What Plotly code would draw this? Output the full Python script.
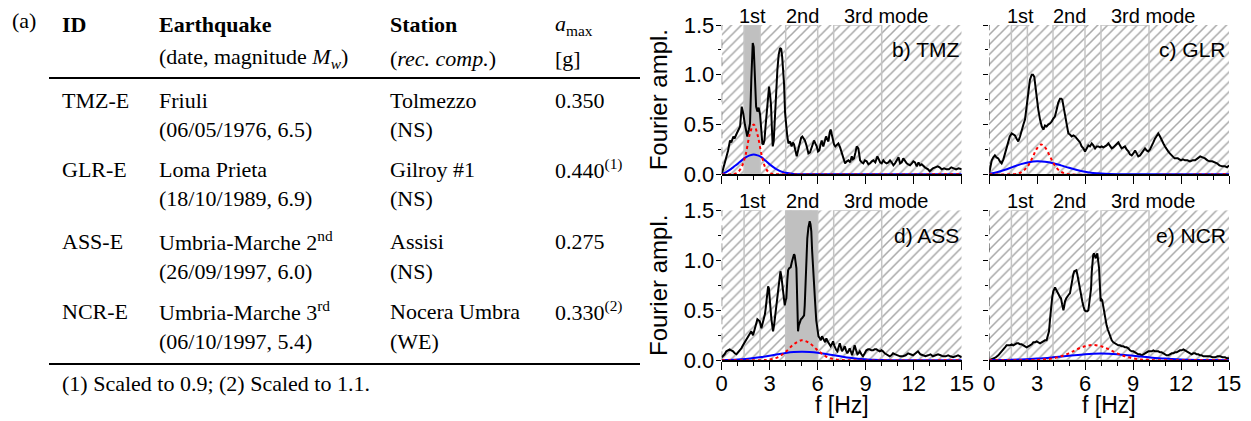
import plotly.graph_objects as go

# ---------------- data ----------------
freq_range = [0, 15]
amp_range = [0, 1.5]

mode_band_lo = [1.4, 4.0, 7.0]
mode_band_hi = [2.4, 6.0, 10.0]
mode_labels = ["1st", "2nd", "3rd mode"]
mode_label_x = [1.95, 5.05, 10.3]

panel_names = ["b) TMZ", "c) GLR", "d) ASS", "e) NCR"]
panel_shaded_band = [0, None, 1, None]

# TMZ
tmz_f = [0.00,0.10,0.21,0.30,0.40,0.52,0.60,0.73,0.80,0.94,1.05,1.15,1.25,1.35,1.45,1.52,1.60,1.70,1.77,1.85,1.94,2.00,2.05,2.10,2.15,2.23,2.31,2.40,2.47,2.54,2.60,2.67,2.75,2.81,2.90,2.96,3.02,3.08,3.14,3.19,3.25,3.32,3.40,3.48,3.56,3.65,3.72,3.78,3.84,3.90,3.96,4.02,4.10,4.17,4.27,4.37,4.45,4.52,4.60,4.69,4.80,4.90,4.97,5.04,5.12,5.20,5.30,5.42,5.52,5.62,5.70,5.77,5.85,5.94,6.02,6.10,6.18,6.25,6.35,6.45,6.52,6.60,6.67,6.75,6.81,6.88,6.94,7.02,7.10,7.20,7.29,7.40,7.50,7.60,7.71,7.82,7.92,8.03,8.13,8.20,8.27,8.36,8.44,8.54,8.65,8.75,8.85,8.95,9.06,9.17,9.27,9.38,9.48,9.60,9.73,9.82,9.90,10.00,10.10,10.20,10.30,10.42,10.52,10.62,10.73,10.83,10.94,11.05,11.15,11.25,11.35,11.45,11.56,11.66,11.77,11.88,11.98,12.08,12.19,12.30,12.40,12.50,12.60,12.70,12.80,12.90,13.00,13.10,13.20,13.35,13.50,13.62,13.75,13.90,14.05,14.20,14.35,14.50,14.65,14.80,15.00]
tmz_amp = [0.00,0.06,0.11,0.19,0.24,0.34,0.32,0.38,0.36,0.41,0.44,0.48,0.68,0.61,0.50,0.43,0.38,0.45,0.51,0.95,1.32,1.28,1.10,0.85,0.68,0.63,0.67,0.60,0.40,0.31,0.30,0.34,0.50,0.63,0.82,0.88,0.80,0.70,0.45,0.28,0.33,0.50,0.80,1.05,1.20,1.27,1.26,1.18,1.05,0.90,0.62,0.48,0.38,0.31,0.33,0.28,0.32,0.30,0.24,0.18,0.26,0.34,0.37,0.38,0.36,0.34,0.29,0.21,0.22,0.26,0.30,0.34,0.31,0.28,0.23,0.24,0.30,0.34,0.28,0.33,0.38,0.35,0.33,0.42,0.45,0.40,0.34,0.30,0.28,0.30,0.31,0.27,0.21,0.16,0.11,0.13,0.14,0.12,0.18,0.15,0.16,0.22,0.28,0.26,0.14,0.12,0.11,0.14,0.13,0.10,0.11,0.13,0.14,0.12,0.18,0.15,0.12,0.11,0.14,0.12,0.11,0.12,0.14,0.12,0.09,0.11,0.14,0.17,0.11,0.12,0.16,0.13,0.11,0.10,0.09,0.11,0.13,0.12,0.08,0.12,0.09,0.10,0.08,0.07,0.06,0.05,0.03,0.05,0.06,0.07,0.08,0.07,0.05,0.06,0.05,0.05,0.07,0.06,0.05,0.06,0.05]
tmz_blue_f = [0,0.25,0.5,0.75,1,1.25,1.5,1.75,2,2.25,2.5,2.75,3,3.25,3.5,3.75,4,4.5,5,6,15]
tmz_blue = [0.0,0.02,0.045,0.075,0.105,0.14,0.17,0.19,0.2,0.19,0.17,0.135,0.1,0.07,0.045,0.027,0.015,0.004,0.0,0.0,0.0]
tmz_red_f = [0,0.75,1.0,1.25,1.5,1.75,2.0,2.25,2.5,2.75,3.0,3.25,3.5,15]
tmz_red = [0,0.003,0.02,0.075,0.2,0.4,0.5,0.39,0.19,0.06,0.013,0.002,0,0]

# GLR
glr_f = [0.00,0.08,0.17,0.27,0.37,0.47,0.58,0.68,0.79,0.90,1.00,1.10,1.20,1.30,1.42,1.50,1.62,1.72,1.83,1.94,2.04,2.15,2.25,2.35,2.46,2.56,2.67,2.75,2.83,2.90,2.98,3.08,3.19,3.30,3.40,3.50,3.60,3.70,3.81,3.92,4.02,4.12,4.23,4.33,4.44,4.52,4.58,4.66,4.75,4.85,4.96,5.06,5.17,5.28,5.38,5.48,5.58,5.69,5.79,5.90,6.00,6.10,6.21,6.31,6.42,6.52,6.63,6.73,6.83,6.94,7.04,7.15,7.25,7.35,7.46,7.56,7.67,7.77,7.88,7.98,8.08,8.19,8.29,8.40,8.50,8.60,8.71,8.81,8.92,9.02,9.13,9.23,9.33,9.44,9.54,9.65,9.75,9.85,9.96,10.06,10.17,10.27,10.38,10.48,10.58,10.69,10.79,10.90,11.00,11.10,11.20,11.30,11.40,11.50,11.60,11.70,11.80,11.90,12.00,12.12,12.25,12.40,12.56,12.72,12.88,13.04,13.20,13.35,13.50,13.65,13.80,13.95,14.10,14.25,14.40,14.58,14.75,14.88,15.00]
glr_amp = [0.00,0.08,0.14,0.17,0.19,0.17,0.16,0.13,0.11,0.15,0.21,0.28,0.34,0.38,0.41,0.40,0.39,0.36,0.33,0.38,0.45,0.50,0.55,0.70,0.85,0.95,1.00,1.00,0.98,0.88,0.75,0.65,0.55,0.48,0.45,0.49,0.48,0.50,0.51,0.53,0.56,0.58,0.65,0.72,0.76,0.76,0.75,0.67,0.58,0.48,0.41,0.40,0.38,0.39,0.38,0.36,0.34,0.32,0.28,0.26,0.23,0.26,0.29,0.28,0.31,0.29,0.26,0.28,0.28,0.27,0.28,0.27,0.28,0.29,0.31,0.29,0.26,0.27,0.29,0.31,0.32,0.29,0.26,0.27,0.28,0.25,0.23,0.20,0.19,0.21,0.24,0.21,0.18,0.19,0.21,0.24,0.26,0.24,0.23,0.25,0.28,0.32,0.36,0.39,0.41,0.38,0.34,0.31,0.28,0.25,0.23,0.21,0.19,0.17,0.16,0.16,0.16,0.15,0.14,0.15,0.14,0.14,0.13,0.14,0.14,0.16,0.18,0.17,0.16,0.14,0.13,0.13,0.12,0.11,0.09,0.08,0.08,0.07,0.09]
glr_blue_f = [0,0.5,1,1.5,2,2.5,3,3.5,4,4.5,5,5.5,6,6.5,7,7.5,8,9,15]
glr_blue = [0.005,0.02,0.045,0.075,0.102,0.122,0.13,0.126,0.112,0.09,0.065,0.043,0.026,0.014,0.007,0.003,0.001,0,0]
glr_red_f = [0,1.75,2,2.25,2.5,2.75,3,3.25,3.5,3.75,4,4.25,4.5,4.75,5,15]
glr_red = [0,0.005,0.02,0.05,0.1,0.18,0.26,0.3,0.27,0.2,0.12,0.06,0.025,0.008,0,0]

# ASS
ass_f = [0.00,0.08,0.18,0.29,0.40,0.50,0.60,0.71,0.82,0.92,1.02,1.13,1.23,1.33,1.44,1.54,1.65,1.75,1.85,1.96,2.03,2.10,2.17,2.23,2.30,2.38,2.48,2.55,2.63,2.70,2.75,2.82,2.90,2.95,3.00,3.05,3.10,3.15,3.21,3.28,3.35,3.43,3.52,3.60,3.67,3.73,3.79,3.86,3.94,4.00,4.04,4.10,4.15,4.22,4.31,4.38,4.46,4.52,4.56,4.62,4.67,4.72,4.77,4.82,4.88,4.95,5.02,5.10,5.15,5.19,5.23,5.29,5.35,5.42,5.50,5.55,5.60,5.65,5.71,5.78,5.85,5.91,5.98,6.05,6.13,6.20,6.27,6.34,6.40,6.47,6.54,6.62,6.69,6.75,6.81,6.88,6.96,7.03,7.10,7.17,7.23,7.30,7.38,7.45,7.52,7.60,7.69,7.77,7.85,7.92,8.00,8.07,8.15,8.23,8.31,8.40,8.48,8.55,8.63,8.73,8.83,8.94,9.04,9.15,9.25,9.35,9.46,9.56,9.67,9.77,9.88,9.98,10.08,10.19,10.29,10.40,10.50,10.60,10.71,10.85,11.00,11.15,11.33,11.50,11.65,11.80,11.96,12.12,12.27,12.42,12.58,12.74,12.90,13.05,13.20,13.36,13.52,13.68,13.83,14.00,14.15,14.30,14.46,14.62,14.77,14.90,15.00]
ass_amp = [0.03,0.04,0.06,0.09,0.10,0.11,0.10,0.09,0.07,0.06,0.08,0.10,0.12,0.15,0.18,0.22,0.24,0.27,0.29,0.25,0.30,0.35,0.38,0.41,0.40,0.39,0.32,0.36,0.41,0.46,0.52,0.62,0.74,0.72,0.65,0.52,0.42,0.33,0.29,0.36,0.45,0.58,0.72,0.82,0.89,0.84,0.75,0.64,0.55,0.60,0.62,0.80,0.90,0.92,0.93,0.98,1.02,1.06,1.05,1.00,0.92,0.60,0.29,0.35,0.39,0.41,0.42,0.44,0.45,0.55,0.72,1.00,1.22,1.33,1.39,1.36,1.29,1.10,0.89,0.70,0.55,0.40,0.29,0.24,0.22,0.20,0.24,0.21,0.20,0.18,0.22,0.19,0.17,0.15,0.14,0.16,0.19,0.15,0.12,0.10,0.09,0.13,0.17,0.13,0.09,0.11,0.14,0.10,0.07,0.09,0.12,0.09,0.05,0.10,0.15,0.10,0.06,0.07,0.09,0.06,0.04,0.07,0.10,0.11,0.11,0.10,0.10,0.11,0.11,0.10,0.09,0.10,0.09,0.07,0.06,0.05,0.04,0.05,0.07,0.06,0.05,0.04,0.04,0.05,0.07,0.06,0.05,0.07,0.09,0.06,0.05,0.04,0.05,0.06,0.04,0.05,0.06,0.05,0.04,0.04,0.05,0.04,0.03,0.04,0.05,0.04,0.03]
ass_blue_f = [0,1,1.5,2,2.5,3,3.5,4,4.5,5,5.5,6,6.5,7,7.5,8,8.5,9,9.5,10,11,12,15]
ass_blue = [0.002,0.008,0.014,0.022,0.033,0.046,0.06,0.073,0.082,0.085,0.083,0.076,0.064,0.05,0.037,0.025,0.016,0.01,0.005,0.003,0.001,0,0]
ass_red_f = [0,2.5,3,3.5,4,4.5,5,5.5,6,6.5,7,7.5,8,15]
ass_red = [0,0.002,0.008,0.03,0.085,0.16,0.2,0.17,0.1,0.04,0.012,0.003,0,0]

# NCR
ncr_f = [0.00,0.14,0.27,0.42,0.58,0.74,0.90,1.00,1.10,1.20,1.31,1.42,1.52,1.62,1.73,1.84,1.94,2.04,2.15,2.25,2.35,2.46,2.56,2.67,2.77,2.88,2.98,3.08,3.19,3.29,3.40,3.50,3.60,3.68,3.75,3.82,3.88,3.95,4.02,4.08,4.13,4.18,4.23,4.30,4.38,4.44,4.50,4.57,4.65,4.70,4.75,4.83,4.92,5.00,5.06,5.13,5.21,5.27,5.33,5.40,5.46,5.52,5.58,5.66,5.75,5.83,5.90,5.98,6.06,6.14,6.21,6.30,6.38,6.42,6.46,6.51,6.56,6.61,6.67,6.72,6.77,6.82,6.88,6.93,6.98,7.03,7.08,7.13,7.19,7.27,7.35,7.42,7.50,7.58,7.67,7.77,7.88,7.98,8.08,8.19,8.29,8.40,8.50,8.60,8.71,8.81,8.92,9.02,9.13,9.23,9.33,9.44,9.54,9.65,9.75,9.85,9.96,10.06,10.17,10.27,10.38,10.48,10.58,10.69,10.79,10.90,11.00,11.10,11.20,11.31,11.42,11.52,11.63,11.73,11.83,11.94,12.04,12.15,12.25,12.35,12.46,12.56,12.67,12.77,12.88,12.98,13.08,13.19,13.29,13.40,13.50,13.65,13.81,13.97,14.13,14.28,14.44,14.60,14.75,14.88,15.00]
ncr_amp = [0.00,0.01,0.02,0.03,0.05,0.08,0.10,0.13,0.15,0.15,0.15,0.16,0.15,0.16,0.17,0.17,0.16,0.16,0.15,0.14,0.13,0.14,0.15,0.16,0.18,0.18,0.19,0.18,0.17,0.18,0.19,0.20,0.20,0.24,0.29,0.42,0.55,0.63,0.69,0.71,0.73,0.71,0.69,0.67,0.65,0.63,0.62,0.56,0.50,0.54,0.59,0.62,0.65,0.66,0.67,0.75,0.82,0.86,0.89,0.90,0.90,0.86,0.80,0.72,0.65,0.59,0.54,0.50,0.49,0.49,0.50,0.60,0.72,0.88,0.99,1.05,1.07,1.04,1.02,1.05,1.07,1.00,0.92,0.75,0.59,0.61,0.60,0.55,0.49,0.42,0.35,0.31,0.27,0.23,0.20,0.18,0.17,0.16,0.15,0.15,0.14,0.14,0.13,0.13,0.12,0.10,0.09,0.09,0.08,0.07,0.06,0.06,0.05,0.06,0.07,0.08,0.09,0.09,0.09,0.10,0.09,0.09,0.09,0.08,0.08,0.07,0.06,0.05,0.05,0.06,0.07,0.07,0.08,0.08,0.09,0.10,0.10,0.11,0.10,0.09,0.08,0.07,0.06,0.07,0.07,0.06,0.06,0.05,0.05,0.04,0.04,0.04,0.04,0.03,0.03,0.04,0.04,0.03,0.03,0.02,0.02]
ncr_blue_f = [0,1,2,3,4,5,6,6.5,7,7.5,8,9,10,11,12,13,14,15]
ncr_blue = [0.002,0.004,0.009,0.017,0.03,0.045,0.06,0.065,0.067,0.065,0.06,0.045,0.03,0.017,0.009,0.004,0.002,0.001]
ncr_red_f = [0,3,3.5,4,4.5,5,5.5,6,6.5,7,7.5,8,8.5,9,9.5,10,11,15]
ncr_red = [0,0.003,0.01,0.02,0.04,0.07,0.11,0.14,0.153,0.14,0.11,0.07,0.04,0.02,0.008,0.003,0,0]

spectra_f = [tmz_f, glr_f, ass_f, ncr_f]
spectra_amp = [tmz_amp, glr_amp, ass_amp, ncr_amp]
blue_f = [tmz_blue_f, glr_blue_f, ass_blue_f, ncr_blue_f]
blue_amp = [tmz_blue, glr_blue, ass_blue, ncr_blue]
red_f = [tmz_red_f, glr_red_f, ass_red_f, ncr_red_f]
red_amp = [tmz_red, glr_red, ass_red, ncr_red]

# Table (a)
table_head1 = ["<b>ID</b>", "<b>Earthquake</b>", "<b>Station</b>", "<i>a</i><sub>max</sub>"]
table_head2 = ["", "(date, magnitude <i>M<sub>w</sub></i>)", "(<i>rec. comp.</i>)", "[g]"]
table_ids = ["TMZ-E", "GLR-E", "ASS-E", "NCR-E"]
table_quakes = ["Friuli", "Loma Prieta", "Umbria-Marche 2<sup>nd</sup>", "Umbria-Marche 3<sup>rd</sup>"]
table_dates = ["(06/05/1976, 6.5)", "(18/10/1989, 6.9)", "(26/09/1997, 6.0)", "(06/10/1997, 5.4)"]
table_stations = ["Tolmezzo", "Gilroy #1", "Assisi", "Nocera Umbra"]
table_comps = ["(NS)", "(NS)", "(NS)", "(WE)"]
table_amax = ["0.350", "0.440<sup>(1)</sup>", "0.275", "0.330<sup>(2)</sup>"]
table_note = "(1) Scaled to 0.9; (2) Scaled to 1.1."

# ---------------- layout helpers ----------------
# the page body has an 8 px margin: the figure is drawn 8 px in from the top-left corner
OFF = 8
W, H = 1251 - OFF, 421 - OFF
def px(x):
    return (x - OFF) / W
def py(y):
    return 1 - (y - OFF) / H

x_domains = [[px(721.7), px(961.7)], [px(989), px(1229)]] * 2
y_domains = [[py(174.3), py(25)]] * 2 + [[py(360.3), py(210.3)]] * 2

SANS = "Liberation Sans"
SERIF = "Liberation Serif"

fig = go.Figure()
layout = dict(
    template="none",
    width=W, height=H, margin=dict(l=0, r=0, t=0, b=0, pad=0), autosize=False,
    paper_bgcolor="white", plot_bgcolor="white", showlegend=False,
    font=dict(family=SANS, color="black"),
)
annotations = []
shapes = []

for i in range(4):
    sfx = "" if i == 0 else str(i + 1)
    xa, ya = "x" + sfx, "y" + sfx
    # hatched background
    fig.add_trace(go.Scatter(
        x=[freq_range[0], freq_range[1], freq_range[1], freq_range[0], freq_range[0]],
        y=[amp_range[0], amp_range[0], amp_range[1], amp_range[1], amp_range[0]],
        fill="toself", mode="none", fillcolor="white",
        fillpattern=dict(shape="/", fgcolor="#a8a8a8", bgcolor="white", size=7, solidity=0.22),
        hoverinfo="skip", xaxis=xa, yaxis=ya))
    # mode bands
    for k in range(3):
        lo, hi = mode_band_lo[k], mode_band_hi[k]
        shaded = panel_shaded_band[i] == k
        fig.add_trace(go.Scatter(
            x=[lo, lo, hi, hi, lo], y=[amp_range[0], amp_range[1], amp_range[1], amp_range[0], amp_range[0]],
            mode="lines", line=dict(color="#c4c4c4", width=1.5),
            fill="toself" if shaded else None, fillcolor="#c0c0c0",
            hoverinfo="skip", xaxis=xa, yaxis=ya))
        annotations.append(dict(
            text=mode_labels[k], x=mode_label_x[k], xref=xa, y=1, yref=ya + " domain",
            yanchor="middle", xanchor="center", yshift=9, showarrow=False,
            font=dict(family=SANS, size=20, color="black")))
    # spectra
    fig.add_trace(go.Scatter(x=spectra_f[i], y=spectra_amp[i], mode="lines",
                             line=dict(color="black", width=2), xaxis=xa, yaxis=ya))
    fig.add_trace(go.Scatter(x=blue_f[i], y=blue_amp[i], mode="lines", line_shape="spline",
                             line=dict(color="#0000ff", width=2), xaxis=xa, yaxis=ya))
    fig.add_trace(go.Scatter(x=red_f[i], y=red_amp[i], mode="lines", line_shape="spline",
                             line=dict(color="#ff0000", width=2, dash="dot"), xaxis=xa, yaxis=ya))
    annotations.append(dict(
        text=panel_names[i], x=1, xref=xa + " domain", y=0.833, yref=ya + " domain",
        xanchor="right", yanchor="middle", xshift=-1, showarrow=False,
        font=dict(family=SANS, size=21, color="black")))
    # dashed left axis line
    shapes.append(dict(type="line", xref=xa, yref=ya, x0=0, x1=0, y0=amp_range[0], y1=amp_range[1],
                       line=dict(color="#333333", width=1, dash="dash")))

    bottom = i >= 2
    left = i % 2 == 0
    xaxis = dict(
        domain=x_domains[i], range=freq_range, anchor=ya, dtick=3, tick0=0, automargin=False,
        ticks="outside", ticklen=8, tickwidth=1.3, tickcolor="black",
        minor=dict(dtick=1, ticks="outside", ticklen=4, tickwidth=1.3, tickcolor="black", showgrid=False),
        showline=True, linecolor="black", linewidth=1.5, showgrid=False, zeroline=False,
        showticklabels=bottom, ticklabelstandoff=-5, tickfont=dict(family=SANS, size=22, color="black"),
    )
    if bottom:
        annotations.append(dict(
            text="f [Hz]", x=0.5, xref=xa + " domain", y=0, yref=ya + " domain",
            xanchor="center", yanchor="middle", yshift=-45, showarrow=False,
            font=dict(family=SANS, size=23, color="black")))
    yaxis = dict(
        domain=y_domains[i], range=amp_range, anchor=xa, dtick=0.5, tick0=0, automargin=False,
        ticks="outside", ticklen=5, tickwidth=1.2, tickcolor="black",
        minor=dict(dtick=0.25, ticks="outside", ticklen=3, tickwidth=1.2, tickcolor="black", showgrid=False),
        showline=False, showgrid=False, zeroline=False,
        showticklabels=left, ticklabelstandoff=-3, tickformat=".1f",
        tickfont=dict(family=SANS, size=22, color="black"),
    )
    if left:
        yaxis["title"] = dict(text="Fourier ampl.", font=dict(family=SANS, size=24, color="black"), standoff=9)
    layout["xaxis" + sfx] = xaxis
    layout["yaxis" + sfx] = yaxis

# ---------------- table (a) ----------------
col_x = [60, 157, 388, 553]
def cell(text, x, y, size=22):
    annotations.append(dict(text=text, x=px(x), y=py(y), xref="paper", yref="paper",
                            xanchor="left", yanchor="middle", showarrow=False,
                            font=dict(family=SERIF, size=size, color="black")))

cell("(a)", 10, 21)
for c in range(4):
    cell(table_head1[c], col_x[c], 25)
    if table_head2[c]:
        cell(table_head2[c], col_x[c], 58)
row_y = [100, 169, 241, 311]
for r in range(4):
    y1, y2 = row_y[r], row_y[r] + 30
    cell(table_ids[r], col_x[0], y1)
    cell(table_quakes[r], col_x[1], y1)
    cell(table_stations[r], col_x[2], y1)
    cell(table_amax[r], col_x[3], y1)
    cell(table_dates[r], col_x[1], y2)
    cell(table_comps[r], col_x[2], y2)
cell(table_note, col_x[0], 383)

for yy in [4, 78, 364]:
    shapes.append(dict(type="line", xref="paper", yref="paper", x0=px(49), x1=px(640),
                       y0=py(yy), y1=py(yy), line=dict(color="black", width=2)))

layout["annotations"] = annotations
layout["shapes"] = shapes
fig.update_layout(**layout)
fig.write_html("out.html")
